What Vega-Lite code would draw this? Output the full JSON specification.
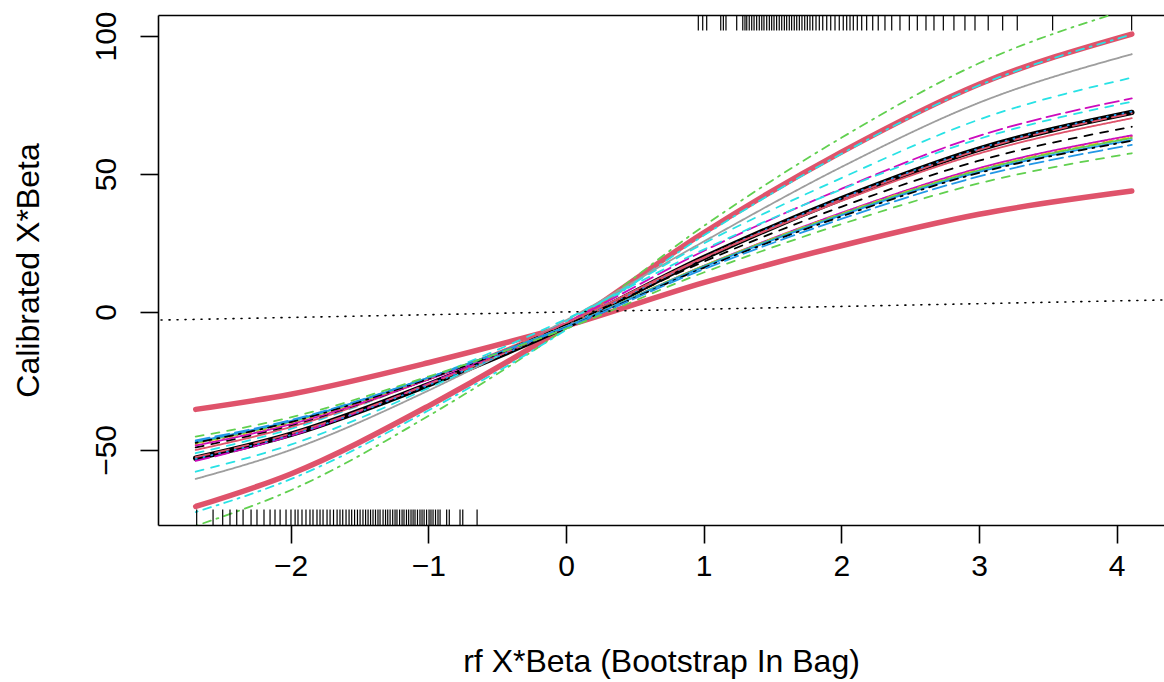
{
"$schema": "https://vega.github.io/schema/vega-lite/v6.json",
"width": 1006,
"height": 510,
"autosize": {"type": "none"},
"padding": {"left": 158, "top": 15, "right": 0, "bottom": 157},
"background": "white",
"config": {"view": {"stroke": null}, "font": "Liberation Sans", "axis": {"grid": false}},
"datasets": {
"thick": [
{"s":"s01","x":-2.69,"y":-70.5},{"s":"s01","x":-2,"y":-58.7},{"s":"s01","x":-1,"y":-34.1},{"s":"s01","x":0,"y":-5.2},{"s":"s01","x":1,"y":28.7},{"s":"s01","x":2,"y":57.9},{"s":"s01","x":3,"y":82.5},{"s":"s01","x":4.11,"y":100.7},
{"s":"s02","x":-2.69,"y":-35.3},{"s":"s02","x":-2,"y":-29.8},{"s":"s02","x":-1,"y":-18.4},{"s":"s02","x":0,"y":-5.1},{"s":"s02","x":1,"y":10.6},{"s":"s02","x":2,"y":24.0},{"s":"s02","x":3,"y":35.4},{"s":"s02","x":4.11,"y":43.8},
{"s":"s03","x":-2.69,"y":-53.0},{"s":"s03","x":-2,"y":-44.4},{"s":"s03","x":-1,"y":-26.4},{"s":"s03","x":0,"y":-5.2},{"s":"s03","x":1,"y":19.6},{"s":"s03","x":2,"y":41.0},{"s":"s03","x":3,"y":59.0},{"s":"s03","x":4.11,"y":72.3}
],
"thin": [
{"s":"s04","x":-2.69,"y":-77.5},{"s":"s04","x":-2,"y":-64.6},{"s":"s04","x":-1,"y":-37.7},{"s":"s04","x":0,"y":-6.0},{"s":"s04","x":1,"y":31.1},{"s":"s04","x":2,"y":63.1},{"s":"s04","x":3,"y":90.1},{"s":"s04","x":4.11,"y":110.0},
{"s":"s05","x":-2.69,"y":-72.5},{"s":"s05","x":-2,"y":-60.6},{"s":"s05","x":-1,"y":-35.7},{"s":"s05","x":0,"y":-6.5},{"s":"s05","x":1,"y":27.7},{"s":"s05","x":2,"y":57.3},{"s":"s05","x":3,"y":82.1},{"s":"s05","x":4.11,"y":100.5},
{"s":"s06","x":-2.69,"y":-60.5},{"s":"s06","x":-2,"y":-50.0},{"s":"s06","x":-1,"y":-28.5},{"s":"s06","x":0,"y":-3.0},{"s":"s06","x":1,"y":25.5},{"s":"s06","x":2,"y":52.5},{"s":"s06","x":3,"y":75.8},{"s":"s06","x":4.11,"y":93.4},
{"s":"s07","x":-2.69,"y":-57.9},{"s":"s07","x":-2,"y":-48.1},{"s":"s07","x":-1,"y":-27.6},{"s":"s07","x":0,"y":-3.5},{"s":"s07","x":1,"y":24.8},{"s":"s07","x":2,"y":48.5},{"s":"s07","x":3,"y":69.7},{"s":"s07","x":4.11,"y":84.9},
{"s":"s08","x":-2.69,"y":-54.0},{"s":"s08","x":-2,"y":-44.9},{"s":"s08","x":-1,"y":-26.0},{"s":"s08","x":0,"y":-3.9},{"s":"s08","x":1,"y":22.1},{"s":"s08","x":2,"y":44.6},{"s":"s08","x":3,"y":63.8},{"s":"s08","x":4.11,"y":77.4},
{"s":"s09","x":-2.69,"y":-51.2},{"s":"s09","x":-2,"y":-42.4},{"s":"s09","x":-1,"y":-24.1},{"s":"s09","x":0,"y":-2.6},{"s":"s09","x":1,"y":22.6},{"s":"s09","x":2,"y":44.4},{"s":"s09","x":3,"y":62.7},{"s":"s09","x":4.11,"y":76.2},
{"s":"s10","x":-2.69,"y":-52.6},{"s":"s10","x":-2,"y":-44.1},{"s":"s10","x":-1,"y":-26.2},{"s":"s10","x":0,"y":-5.1},{"s":"s10","x":1,"y":19.5},{"s":"s10","x":2,"y":40.8},{"s":"s10","x":3,"y":58.7},{"s":"s10","x":4.11,"y":72.0},
{"s":"s11","x":-2.69,"y":-53.2},{"s":"s11","x":-2,"y":-44.6},{"s":"s11","x":-1,"y":-26.5},{"s":"s11","x":0,"y":-5.2},{"s":"s11","x":1,"y":19.7},{"s":"s11","x":2,"y":41.2},{"s":"s11","x":3,"y":59.2},{"s":"s11","x":4.11,"y":72.6},
{"s":"s12","x":-2.69,"y":-50.0},{"s":"s12","x":-2,"y":-41.7},{"s":"s12","x":-1,"y":-24.4},{"s":"s12","x":0,"y":-4.1},{"s":"s12","x":1,"y":19.7},{"s":"s12","x":2,"y":40.2},{"s":"s12","x":3,"y":57.4},{"s":"s12","x":4.11,"y":70.2},
{"s":"s13","x":-2.69,"y":-49.1},{"s":"s13","x":-2,"y":-41.1},{"s":"s13","x":-1,"y":-24.4},{"s":"s13","x":0,"y":-4.8},{"s":"s13","x":1,"y":18.2},{"s":"s13","x":2,"y":38.1},{"s":"s13","x":3,"y":54.8},{"s":"s13","x":4.11,"y":67.1},
{"s":"s14","x":-2.69,"y":-48.4},{"s":"s14","x":-2,"y":-40.7},{"s":"s14","x":-1,"y":-24.5},{"s":"s14","x":0,"y":-5.5},{"s":"s14","x":1,"y":16.7},{"s":"s14","x":2,"y":35.9},{"s":"s14","x":3,"y":52.1},{"s":"s14","x":4.11,"y":64.0},
{"s":"s15","x":-2.69,"y":-48.0},{"s":"s15","x":-2,"y":-40.4},{"s":"s15","x":-1,"y":-24.3},{"s":"s15","x":0,"y":-5.5},{"s":"s15","x":1,"y":16.6},{"s":"s15","x":2,"y":35.6},{"s":"s15","x":3,"y":51.7},{"s":"s15","x":4.11,"y":63.5},
{"s":"s16","x":-2.69,"y":-47.6},{"s":"s16","x":-2,"y":-40.0},{"s":"s16","x":-1,"y":-24.0},{"s":"s16","x":0,"y":-5.3},{"s":"s16","x":1,"y":16.7},{"s":"s16","x":2,"y":35.6},{"s":"s16","x":3,"y":51.5},{"s":"s16","x":4.11,"y":63.3},
{"s":"s17","x":-2.69,"y":-47.4},{"s":"s17","x":-2,"y":-39.8},{"s":"s17","x":-1,"y":-23.9},{"s":"s17","x":0,"y":-5.3},{"s":"s17","x":1,"y":16.6},{"s":"s17","x":2,"y":35.4},{"s":"s17","x":3,"y":51.3},{"s":"s17","x":4.11,"y":63.0},
{"s":"s18","x":-2.69,"y":-47.0},{"s":"s18","x":-2,"y":-39.5},{"s":"s18","x":-1,"y":-23.8},{"s":"s18","x":0,"y":-5.3},{"s":"s18","x":1,"y":16.3},{"s":"s18","x":2,"y":35.0},{"s":"s18","x":3,"y":50.7},{"s":"s18","x":4.11,"y":62.3},
{"s":"s19","x":-2.69,"y":-47.4},{"s":"s19","x":-2,"y":-39.9},{"s":"s19","x":-1,"y":-24.2},{"s":"s19","x":0,"y":-5.7},{"s":"s19","x":1,"y":16.0},{"s":"s19","x":2,"y":34.6},{"s":"s19","x":3,"y":50.4},{"s":"s19","x":4.11,"y":62.0},
{"s":"s20","x":-2.69,"y":-46.5},{"s":"s20","x":-2,"y":-39.2},{"s":"s20","x":-1,"y":-23.8},{"s":"s20","x":0,"y":-5.7},{"s":"s20","x":1,"y":15.5},{"s":"s20","x":2,"y":33.7},{"s":"s20","x":3,"y":49.1},{"s":"s20","x":4.11,"y":60.5},
{"s":"s21","x":-2.69,"y":-45.2},{"s":"s21","x":-2,"y":-38.2},{"s":"s21","x":-1,"y":-23.4},{"s":"s21","x":0,"y":-6.1},{"s":"s21","x":1,"y":14.3},{"s":"s21","x":2,"y":31.8},{"s":"s21","x":3,"y":46.6},{"s":"s21","x":4.11,"y":57.5}
],
"ident": [{"x":-3,"y":-3},{"x":4.4,"y":4.4}],
"rugb": [{"x":-2.683},{"x":-2.564},{"x":-2.494},{"x":-2.441},{"x":-2.392},{"x":-2.346},{"x":-2.288},{"x":-2.245},{"x":-2.194},{"x":-2.150},{"x":-2.114},{"x":-2.077},{"x":-2.034},{"x":-1.998},{"x":-1.968},{"x":-1.947},{"x":-1.918},{"x":-1.889},{"x":-1.860},{"x":-1.838},{"x":-1.809},{"x":-1.787},{"x":-1.765},{"x":-1.736},{"x":-1.714},{"x":-1.689},{"x":-1.663},{"x":-1.642},{"x":-1.622},{"x":-1.598},{"x":-1.576},{"x":-1.557},{"x":-1.536},{"x":-1.515},{"x":-1.496},{"x":-1.475},{"x":-1.456},{"x":-1.438},{"x":-1.420},{"x":-1.402},{"x":-1.384},{"x":-1.366},{"x":-1.351},{"x":-1.329},{"x":-1.311},{"x":-1.295},{"x":-1.278},{"x":-1.259},{"x":-1.242},{"x":-1.228},{"x":-1.209},{"x":-1.191},{"x":-1.177},{"x":-1.159},{"x":-1.143},{"x":-1.126},{"x":-1.111},{"x":-1.097},{"x":-1.079},{"x":-1.061},{"x":-1.046},{"x":-1.031},{"x":-1.013},{"x":-0.995},{"x":-0.981},{"x":-0.966},{"x":-0.948},{"x":-0.930},{"x":-0.915},{"x":-0.867},{"x":-0.848},{"x":-0.770},{"x":-0.750},{"x":-0.646}],
"rugt": [{"x":0.961},{"x":0.993},{"x":1.022},{"x":1.124},{"x":1.143},{"x":1.162},{"x":1.240},{"x":1.284},{"x":1.300},{"x":1.313},{"x":1.331},{"x":1.349},{"x":1.366},{"x":1.385},{"x":1.404},{"x":1.422},{"x":1.438},{"x":1.458},{"x":1.477},{"x":1.494},{"x":1.511},{"x":1.530},{"x":1.549},{"x":1.567},{"x":1.586},{"x":1.603},{"x":1.622},{"x":1.639},{"x":1.658},{"x":1.676},{"x":1.695},{"x":1.714},{"x":1.734},{"x":1.753},{"x":1.772},{"x":1.792},{"x":1.816},{"x":1.840},{"x":1.865},{"x":1.894},{"x":1.923},{"x":1.954},{"x":1.985},{"x":2.014},{"x":2.039},{"x":2.063},{"x":2.087},{"x":2.116},{"x":2.148},{"x":2.184},{"x":2.228},{"x":2.268},{"x":2.317},{"x":2.366},{"x":2.426},{"x":2.494},{"x":2.552},{"x":2.615},{"x":2.673},{"x":2.741},{"x":2.818},{"x":2.898},{"x":2.971},{"x":3.067},{"x":3.172},{"x":3.278},{"x":3.535},{"x":4.109}]
},
"layer": [
{
"data": {"name": "thick"},
"mark": {"type": "line", "clip": true, "interpolate": "monotone", "strokeCap": "round", "strokeJoin": "round", "strokeWidth": 5.5},
"encoding": {
"x": {"field": "x", "type": "quantitative", "scale": {"domain": [-2.964, 4.344], "nice": false, "zero": false},
"axis": {"orient": "bottom", "values": [-2, -1, 0, 1, 2, 3, 4], "title": "rf X*Beta (Bootstrap In Bag)", "domain": true, "domainColor": "black", "domainWidth": 1.6, "ticks": true, "tickColor": "black", "tickWidth": 1.6, "tickSize": 18, "labelFont": "Liberation Sans", "labelFontSize": 30, "labelColor": "black", "labelPadding": 32, "labelBaseline": "alphabetic", "labelAlign": "center", "labelFlush": false, "labelOverlap": false, "labelExpr": "replace(datum.label, '-', '−')", "titleFont": "Liberation Sans", "titleFontSize": 32, "titleFontWeight": "normal", "titleColor": "black", "titleBaseline": "alphabetic", "titleY": 146}},
"y": {"field": "y", "type": "quantitative", "scale": {"domain": [-77.2, 107.6], "nice": false, "zero": false},
"axis": {"orient": "left", "values": [-50, 0, 50, 100], "title": "Calibrated X*Beta", "domain": true, "domainColor": "black", "domainWidth": 1.6, "ticks": true, "tickColor": "black", "tickWidth": 1.6, "tickSize": 18, "labelFont": "Liberation Sans", "labelFontSize": 30, "labelColor": "black", "labelAngle": -90, "labelAlign": "center", "labelBaseline": "alphabetic", "labelPadding": 25, "labelFlush": false, "labelOverlap": false, "labelExpr": "replace(datum.label, '-', '−')", "titleFont": "Liberation Sans", "titleFontSize": 32, "titleFontWeight": "normal", "titleColor": "black", "titleAngle": -90, "titleBaseline": "alphabetic", "titleX": -120}},
"color": {"field": "s", "type": "nominal", "legend": null, "scale": {"domain": ["s01","s02","s03","s04","s05","s06","s07","s08","s09","s10","s11","s12","s13","s14","s15","s16","s17","s18","s19","s20","s21"], "range": ["#DF536B","#DF536B","#000000","#61D04F","#28E2E5","#9E9E9E","#28E2E5","#CD0BBC","#28E2E5","#DF536B","#2297E6","#DF536B","#000000","#CD0BBC","#DF536B","#F5C710","#61D04F","#2297E6","#000000","#2297E6","#61D04F"]}}
}
},
{
"data": {"name": "thin"},
"mark": {"type": "line", "clip": true, "interpolate": "monotone", "strokeCap": "round", "strokeJoin": "round", "strokeWidth": 1.8},
"encoding": {
"x": {"field": "x", "type": "quantitative", "axis": null},
"y": {"field": "y", "type": "quantitative"},
"color": {"field": "s", "type": "nominal", "legend": null},
"strokeDash": {"field": "s", "type": "nominal", "legend": null, "scale": {"domain": ["s04","s05","s06","s07","s08","s09","s10","s11","s12","s13","s14","s15","s16","s17","s18","s19","s20","s21"], "range": [[2,6,8,6],[2,6,8,6],[1,0],[8,8],[14,6],[8,8],[14,6],[1,7],[1,0],[8,8],[1,0],[1,6],[8,8],[1,0],[1,0],[2,6,8,6],[14,6],[8,8]]}}
}
},
{
"data": {"name": "ident"},
"mark": {"type": "line", "clip": true, "color": "black", "strokeWidth": 1.6, "strokeDash": [1, 7], "strokeCap": "round"},
"encoding": {"x": {"field": "x", "type": "quantitative", "axis": null}, "y": {"field": "y", "type": "quantitative"}}
},
{
"data": {"name": "rugb"},
"mark": {"type": "rule", "color": "black", "strokeWidth": 1.2},
"encoding": {"x": {"field": "x", "type": "quantitative", "axis": null}, "y": {"datum": -77.2}, "y2": {"datum": -71.6}}
},
{
"data": {"name": "rugt"},
"mark": {"type": "rule", "color": "black", "strokeWidth": 1.2},
"encoding": {"x": {"field": "x", "type": "quantitative", "axis": {"orient": "top", "domain": true, "domainColor": "black", "domainWidth": 1.6, "ticks": false, "labels": false, "title": null, "grid": false}}, "y": {"datum": 107.6}, "y2": {"datum": 102.0}}
}
],
"resolve": {"axis": {"x": "independent"}, "scale": {"strokeDash": "independent"}}
}
